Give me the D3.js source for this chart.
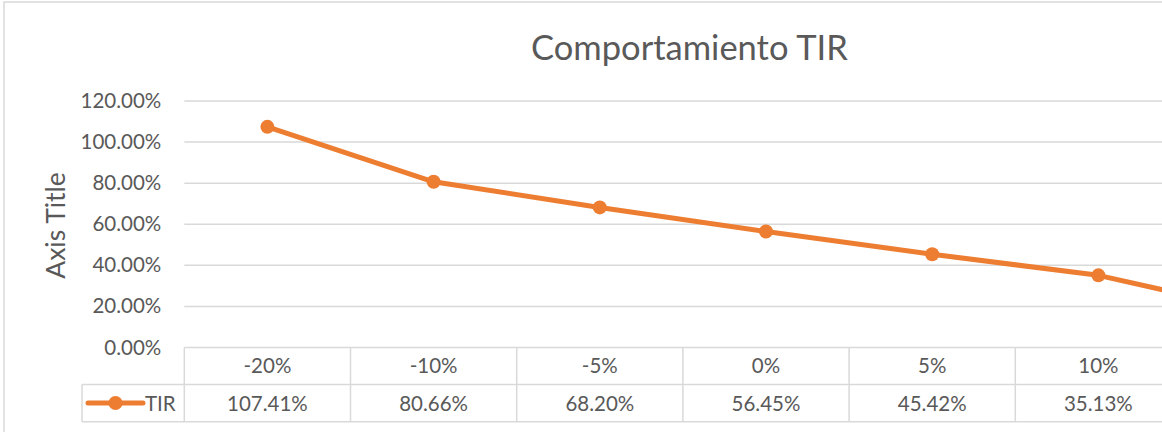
<!DOCTYPE html>
<html>
<head>
<meta charset="utf-8">
<script src="https://cdn.jsdelivr.net/npm/d3@7"></script>
<style>
  html, body { margin: 0; padding: 0; background: #fff; overflow: hidden; }
  text { font-family: Lato, "Open Sans", sans-serif; fill: #595959; }
</style>
</head>
<body>
<svg id="chart" width="1162" height="432"></svg>
<script>
// ---- data ----
const chartTitle = "Comportamiento TIR";
const axisTitle = "Axis Title";
const seriesName = "TIR";
const categories = ["-20%", "-10%", "-5%", "0%", "5%", "10%", "20%"];
const tirValues = [1.0741, 0.8066, 0.6820, 0.5645, 0.4542, 0.3513, 0.170];
const yTicks = [0, 0.2, 0.4, 0.6, 0.8, 1.0, 1.2];

// ---- layout ----
const W = 1162, H = 432;
const plotLeft = 184.3, plotRight = 1347.7;
const plotTop = 101, plotBottom = 347.5;
const rowSep = 384.5, tableBottom = 421.8, legendLeft = 82;
const orange = "#ED7D31", grid = "#d9d9d9";

const svg = d3.select("#chart");

// chart border
svg.append("rect").attr("x", 4).attr("y", 2).attr("width", 1400).attr("height", 500)
  .attr("fill", "none").attr("stroke", grid).attr("stroke-width", 1.5);

const x = d3.scaleBand().domain(categories).range([plotLeft, plotRight]);
const y = d3.scaleLinear().domain([0, 1.2]).range([plotBottom, plotTop]);
const fmt = d3.format(".2%");

// title
svg.append("text").attr("x", 689.5).attr("y", 47.5).attr("dy", "0.36em")
  .attr("text-anchor", "middle").style("font-size", "34.5px").text(chartTitle);

// axis title
svg.append("text").attr("transform", "translate(55,225.5) rotate(-90)")
  .attr("text-anchor", "middle").attr("dy", "0.36em").style("font-size", "26.5px").text(axisTitle);

// y axis via d3 axis
const yAxis = d3.axisLeft(y).tickValues(yTicks).tickFormat(fmt).tickSize(0).tickPadding(23);
const yg = svg.append("g").attr("transform", `translate(${plotLeft},0)`).call(yAxis);
yg.select(".domain").remove();
yg.selectAll("text").style("font-size", "20.5px").attr("fill", "#595959")
  .style("font-family", "Lato, 'Open Sans', sans-serif");

// gridlines
svg.append("g").selectAll("line").data(yTicks.filter(d => d > 0)).join("line")
  .attr("x1", plotLeft).attr("x2", plotRight)
  .attr("y1", d => y(d)).attr("y2", d => y(d))
  .attr("stroke", grid).attr("stroke-width", 1.5);

// data table
const tbl = svg.append("g").attr("stroke", grid).attr("stroke-width", 1.5);
tbl.append("line").attr("x1", plotLeft).attr("x2", plotRight).attr("y1", plotBottom).attr("y2", plotBottom);
tbl.append("line").attr("x1", legendLeft).attr("x2", plotRight).attr("y1", rowSep).attr("y2", rowSep);
tbl.append("line").attr("x1", legendLeft).attr("x2", plotRight).attr("y1", tableBottom).attr("y2", tableBottom);
tbl.append("line").attr("x1", legendLeft).attr("x2", legendLeft).attr("y1", rowSep).attr("y2", tableBottom);
tbl.selectAll("line.col").data(categories).join("line").attr("class", "col")
  .attr("x1", d => x(d)).attr("x2", d => x(d)).attr("y1", plotBottom).attr("y2", tableBottom);

const visible = categories.filter(c => x(c) + x.bandwidth() / 2 < W);
svg.append("g").selectAll("text").data(visible).join("text")
  .attr("x", d => x(d) + x.bandwidth() / 2).attr("y", 366).attr("dy", "0.36em")
  .attr("text-anchor", "middle").style("font-size", "20.5px").text(d => d);
svg.append("g").selectAll("text").data(visible).join("text")
  .attr("x", d => x(d) + x.bandwidth() / 2).attr("y", 403.5).attr("dy", "0.36em")
  .attr("text-anchor", "middle").style("font-size", "20.5px")
  .text(d => fmt(tirValues[categories.indexOf(d)]));

// legend key in table
svg.append("line").attr("x1", 88).attr("x2", 143).attr("y1", 403).attr("y2", 403)
  .attr("stroke", orange).attr("stroke-width", 5).attr("stroke-linecap", "round");
svg.append("circle").attr("cx", 115.5).attr("cy", 403).attr("r", 7).attr("fill", orange);
svg.append("text").attr("x", 145).attr("y", 403.5).attr("dy", "0.36em")
  .style("font-size", "20.5px").text(seriesName);

// series line
const pts = categories.map((c, i) => ({ c, v: tirValues[i] }));
const line = d3.line().x(d => x(d.c) + x.bandwidth() / 2).y(d => y(d.v));
svg.append("path").datum(pts).attr("d", line).attr("fill", "none")
  .attr("stroke", orange).attr("stroke-width", 5).attr("stroke-linejoin", "round").attr("stroke-linecap", "round");
svg.append("g").selectAll("circle").data(pts).join("circle")
  .attr("cx", d => x(d.c) + x.bandwidth() / 2).attr("cy", d => y(d.v)).attr("r", 7).attr("fill", orange);
</script>
</body>
</html>
